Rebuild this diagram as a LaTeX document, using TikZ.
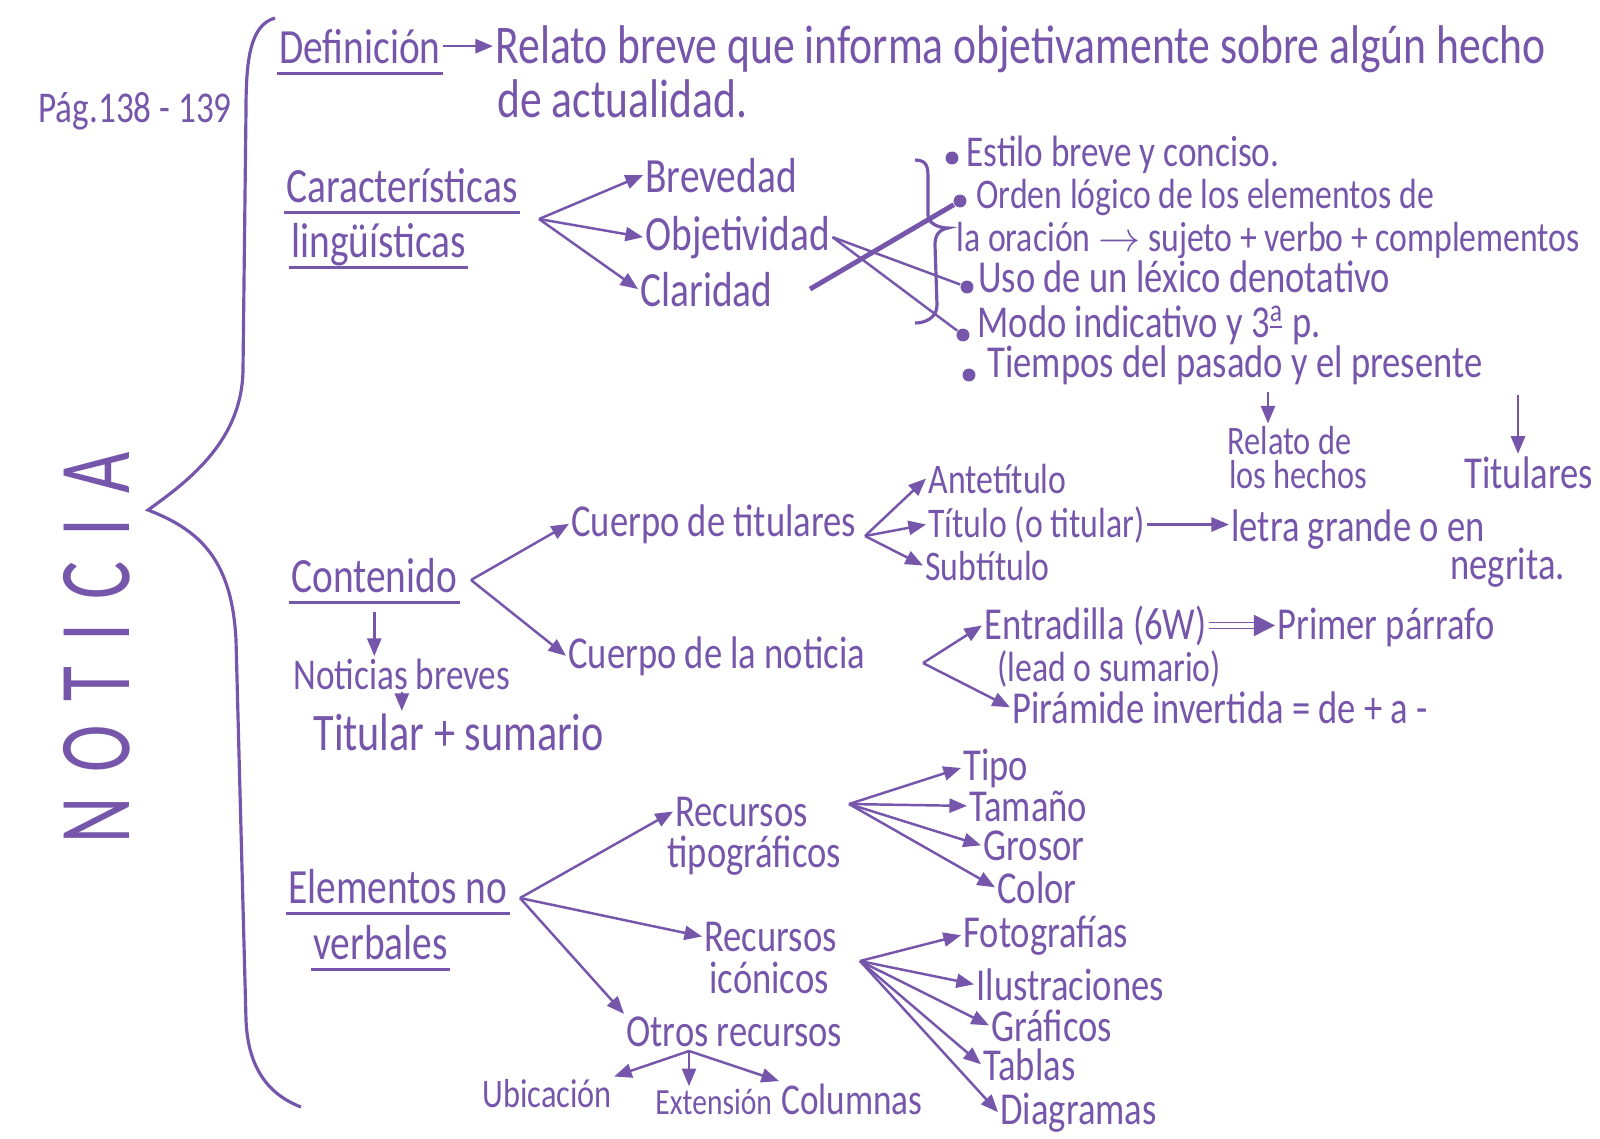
\documentclass[tikz,border=0pt]{standalone}
\usepackage{fontspec}
\setmainfont{Carlito}[FakeStretch=0.8]
\newfontfamily\bigfont{Carlito}[FakeStretch=0.7]
\usetikzlibrary{arrows.meta}
\definecolor{ink}{RGB}{118,86,170}

\begin{document}
\begin{tikzpicture}[x=0.01cm, y=-0.01cm,
    txt/.style ={anchor=base west, inner sep=0.5pt, text=ink, font=\fontsize{14}{16}\selectfont},
    lst/.style ={txt, font=\fontsize{13}{15}\selectfont},
    itm/.style ={txt, font=\fontsize{12}{14}\selectfont},
    sml/.style ={txt, font=\fontsize{11.5}{13}\selectfont},
    arr/.style ={-{Triangle[length=5pt,width=4pt]}, draw=ink, line width=0.7pt},
    dbl/.style ={-{Triangle[length=6pt,width=6pt]}, draw=ink, double=white, double distance=1.2pt, line width=0.5pt},
    uline/.style={draw=ink, line width=1pt},
    brace/.style={draw=ink, line width=0.9pt},
    xline/.style={draw=ink, line width=0.7pt},
    dot/.style  ={circle, fill=ink, inner sep=1.3pt}
  ]
    \fill[white] (0,0) rectangle (1600,1138);
    \useasboundingbox (0,0) rectangle (1600,1138);

    \node[rotate=90, text=ink, inner sep=0pt, font=\bigfont\fontsize{29}{30}\selectfont] (noti) at (97,648)
        {N\hspace{7pt}O\hspace{7pt}T\hspace{7pt}I\hspace{7pt}C\hspace{7pt}I\hspace{7pt}A};
    \node[txt, font=\fontsize{12.5}{14}\selectfont] (pag) at (36,122) {Pág.138 - 139};

    \draw[brace] (275,18) .. controls (250,25) and (246,60) .. (246,110) -- (243,370)
        .. controls (242,440) and (190,480) .. (148,510)
        .. controls (200,530) and (232,560) .. (236,640) -- (246,1020)
        .. controls (248,1070) and (270,1095) .. (301,1107);

    \node[txt] (def)  at (277,63)  {Definición};
    \node[txt, font=\fontsize{15.5}{17}\selectfont] (rel)  at (493,63)  {Relato breve que informa objetivamente sobre algún hecho};
    \node[txt, font=\fontsize{15.5}{17}\selectfont] (rel2) at (495,117) {de actualidad.};
    \draw[uline] ([yshift=-3pt]def.base west) -- ([yshift=-3pt]def.base east);
    \draw[arr] (def.east) -- (def.east -| rel.west);

    \node[txt] (car1) at (284,202) {Características};
    \node[txt] (car2) at (289,257) {lingüísticas};
    \draw[uline] ([yshift=-3pt]car1.base west) -- ([yshift=-3pt]car1.base east);
    \draw[uline] ([yshift=-3pt]car2.base west) -- ([yshift=-3pt]car2.base east);
    \coordinate (cfk) at (539,219);
    \node[txt] (brev) at (643,192) {Brevedad};
    \node[txt] (obj)  at (643,250) {Objetividad};
    \node[txt] (cla)  at (638,306) {Claridad};
    \draw[arr] (cfk) -- (brev.west);
    \draw[arr] (cfk) -- (obj.west);
    \draw[arr] (cfk) -- (cla.west);

    \draw[brace] (915,160) .. controls (928,160) and (928,168) .. (928,180) -- (928,215)
        .. controls (928,224) and (940,228) .. (948,228)
        .. controls (938,230) and (935,236) .. (935,245) -- (937,305)
        .. controls (937,318) and (925,323) .. (915,323);

    \node[dot] (b1) at (952,158) {};
    \node[itm, font=\fontsize{12.5}{14}\selectfont] (est) at (964,166) {Estilo breve y conciso.};
    \node[dot] (b2) at (960,201) {};
    \node[itm] (ord) at (974,208) {Orden lógico de los elementos de};
    \node[itm] (ora) at (954,251) {la oración $\rightarrow$ sujeto + verbo + complementos};
    \node[dot] (b3) at (967,287) {};
    \node[lst] (uso) at (976,292) {Uso de un léxico denotativo};
    \node[dot] (b4) at (963,335) {};
    \node[lst] (mod) at (975,337) {Modo indicativo y 3\textsuperscript{\underline{a}} p.};
    \node[dot] (b5) at (969,375) {};
    \node[lst] (tie) at (985,377) {Tiempos del pasado y el presente};
    \draw[xline, line width=1.4pt] ([xshift=10pt]cla.east) -- (b2);
    \draw[xline] (obj.east) -- (b3);
    \draw[xline] (obj.east) -- (b4);

    \coordinate (pas) at (1268,392);
    \coordinate (pre) at (1518,395);
    \node[sml] (rdh1) at (1225,454) {Relato de};
    \node[sml] (rdh2) at (1227,488) {los hechos};
    \node[lst] (titu) at (1462,488) {Titulares};
    \draw[arr] (pas) -- (pas |- rdh1.north);
    \draw[arr] (pre) -- (pre |- titu.north);

    \node[txt] (con) at (289,592) {Contenido};
    \draw[uline] ([yshift=-3pt]con.base west) -- ([yshift=-3pt]con.base east);
    \node[txt, font=\fontsize{12.5}{14}\selectfont] (nb) at (291,689) {Noticias breves};
    \node[txt, font=\fontsize{15}{17}\selectfont] (ts) at (311,750) {Titular + sumario};
    \draw[arr] ([yshift=-5pt]con.south) -- (con.south |- nb.north);
    \draw[arr] (nb.south) -- (nb.south |- ts.north);
    \coordinate (cfk2) at (471,580);
    \node[lst] (ctit) at (569,536) {Cuerpo de titulares};
    \node[lst] (cnot) at (566,668) {Cuerpo de la noticia};
    \draw[arr] (cfk2) -- (ctit.west);
    \draw[arr] (cfk2) -- (cnot.west);

    \coordinate (tfk) at (865,536);
    \node[itm] (ante) at (926,493)  {Antetítulo};
    \node[itm] (tit)  at (926,537)  {Título (o titular)};
    \node[itm] (sub)  at (923,580)  {Subtítulo};
    \node[lst] (let1) at (1229,541) {letra grande o en};
    \node[lst] (let2) at (1448,579) {negrita.};
    \draw[arr] (tfk) -- (ante.west);
    \draw[arr] (tfk) -- (tit.west);
    \draw[arr] (tfk) -- (sub.west);
    \draw[arr] (tit.east) -- (tit.east -| let1.west);

    \coordinate (nfk) at (923,663);
    \node[lst] (entr) at (982,639)  {Entradilla (6W)};
    \node[itm] (lead) at (995,681)  {(lead o sumario)};
    \node[lst] (pir)  at (1010,723) {Pirámide invertida = de + a -};
    \node[lst] (prim) at (1275,639) {Primer párrafo};
    \draw[arr] (nfk) -- (entr.west);
    \draw[arr] (nfk) -- (pir.west);
    \draw[dbl] (entr.east) -- (entr.east -| prim.west);

    \node[txt] (ele1) at (286,903) {Elementos no};
    \node[txt] (ele2) at (311,959) {verbales};
    \draw[uline] ([yshift=-3pt]ele1.base west) -- ([yshift=-3pt]ele1.base east);
    \draw[uline] ([yshift=-3pt]ele2.base west) -- ([yshift=-3pt]ele2.base east);
    \coordinate (efk) at (520,898);
    \node[lst] (rt1) at (673,826)  {Recursos};
    \node[lst] (rt2) at (665,867)  {tipográficos};
    \node[lst] (ri1) at (702,951)  {Recursos};
    \node[lst] (ri2) at (707,993)  {icónicos};
    \node[lst] (otr) at (624,1046) {Otros recursos};
    \draw[arr] (efk) -- (rt1.west);
    \draw[arr] (efk) -- (ri1.west);
    \draw[arr] (efk) -- (otr.north west);

    \coordinate (ofk) at (689,1051);
    \node[sml] (ubi) at (480,1107) {Ubicación};
    \node[sml, font=\fontsize{10.5}{12}\selectfont] (ext) at (653,1114) {Extensión};
    \node[txt, font=\fontsize{12.5}{14}\selectfont] (col) at (779,1114) {Columnas};
    \draw[arr] (ofk) -- (ubi.north east);
    \draw[arr] (ofk) -- (ofk |- ext.north);
    \draw[arr] (ofk) -- (col.north west);

    \coordinate (tfk2) at (849,804);
    \node[lst] (tipo) at (961,780) {Tipo};
    \node[lst] (tam)  at (967,821) {Tamaño};
    \node[lst] (gro)  at (981,860) {Grosor};
    \node[lst] (colr) at (995,903) {Color};
    \draw[arr] (tfk2) -- (tipo.west);
    \draw[arr] (tfk2) -- (tam.west);
    \draw[arr] (tfk2) -- (gro.west);
    \draw[arr] (tfk2) -- (colr.west);

    \coordinate (ifk) at (860,961);
    \node[lst] (foto) at (961,947)  {Fotografías};
    \node[lst] (ilu)  at (974,1000) {Ilustraciones};
    \node[lst] (gra)  at (989,1041) {Gráficos};
    \node[lst] (tab)  at (981,1080) {Tablas};
    \node[lst] (dia)  at (998,1124) {Diagramas};
    \draw[arr] (ifk) -- (foto.west);
    \draw[arr] (ifk) -- (ilu.west);
    \draw[arr] (ifk) -- (gra.west);
    \draw[arr] (ifk) -- (tab.west);
    \draw[arr] (ifk) -- (dia.west);
\end{tikzpicture}
\end{document}
